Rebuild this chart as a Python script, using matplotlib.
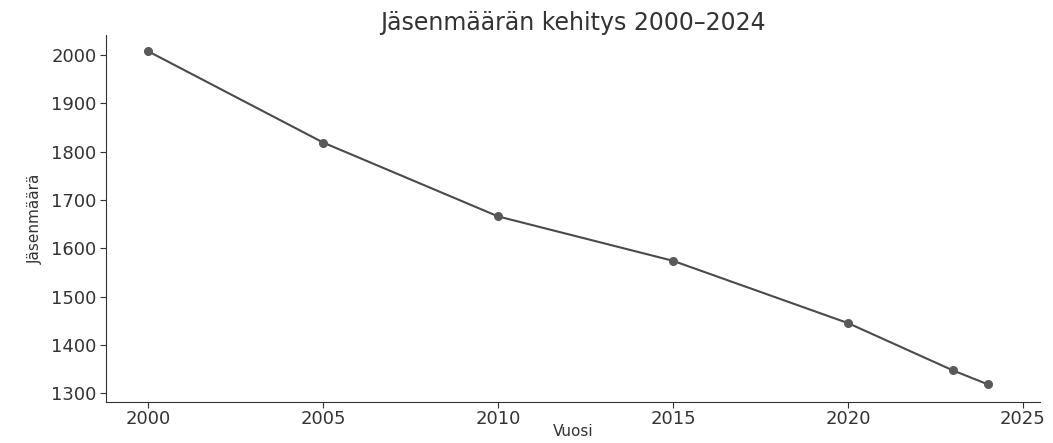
import matplotlib
matplotlib.use('Agg')
import matplotlib.pyplot as plt

vuodet = [2000, 2005, 2010, 2015, 2020, 2023, 2024]
jasenet = [2008, 1819, 1666, 1574, 1445, 1347, 1318]

fig = plt.figure(figsize=(10.53, 4.43), dpi=100)
ax = fig.add_axes([0.101, 0.092, 0.887, 0.828])

ax.plot(vuodet, jasenet, color='#4a4a4a', linewidth=1.5,
        marker='o', markersize=5.5, markerfacecolor='#5a5a5a', markeredgecolor='#5a5a5a')

ax.set_xlim(1998.8, 2025.5)
ax.set_ylim(1281, 2041)
ax.set_xticks([2000, 2005, 2010, 2015, 2020, 2025])
ax.set_yticks(range(1300, 2001, 100))
ax.tick_params(axis='y', labelsize=13, colors='#333333', length=4, pad=3)
ax.tick_params(axis='x', labelsize=13, colors='#333333', length=4, pad=1.5)
for s in ['top', 'right']:
    ax.spines[s].set_visible(False)
ax.spines['left'].set_color('#333333')
ax.spines['bottom'].set_color('#333333')

ax.set_title('Jäsenmäärän kehitys 2000–2024', fontsize=17, color='#333333', pad=4)
ax.set_xlabel('Vuosi', fontsize=11, color='#333333', labelpad=-3)
ax.set_ylabel('Jäsenmäärä', fontsize=11, color='#333333', labelpad=6)

fig.savefig('out.png', dpi=100)
